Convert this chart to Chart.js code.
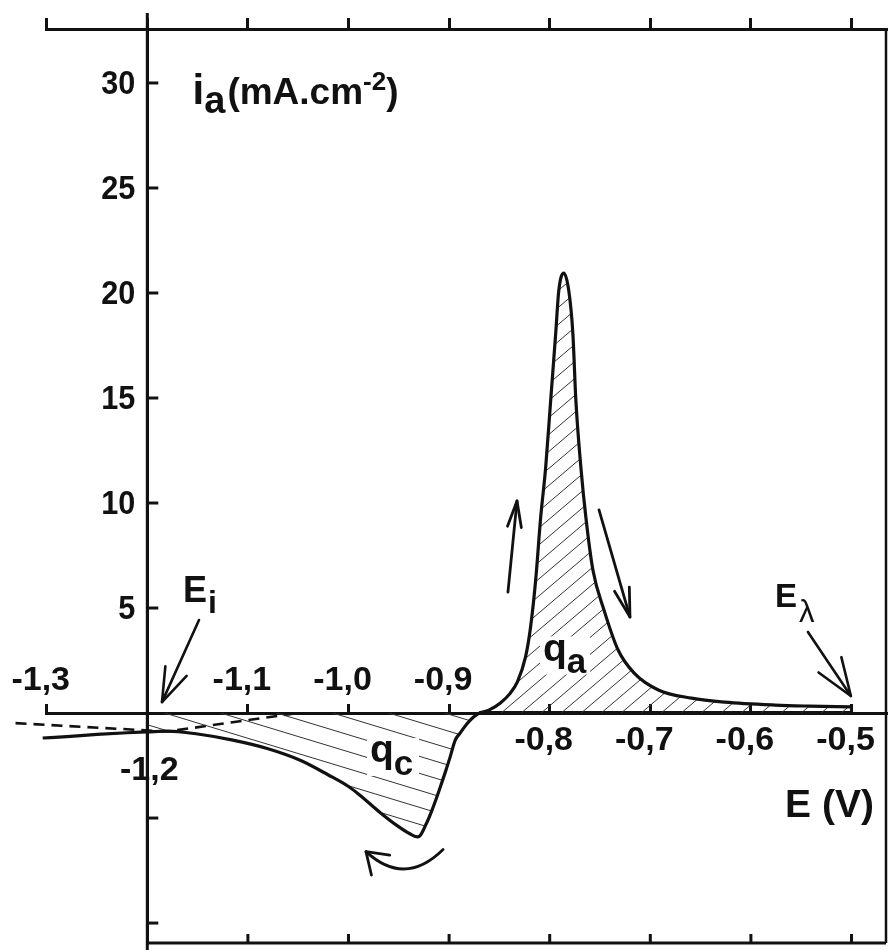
<!DOCTYPE html>
<html><head><meta charset="utf-8">
<script src="https://cdn.jsdelivr.net/npm/chart.js@4.4.0/dist/chart.umd.min.js"></script>
<style>html,body{margin:0;padding:0;background:#fff}canvas{display:block}</style>
</head><body>
<canvas id="c" width="890" height="950"></canvas>
<script>
// ---------- data ----------
const xTickValues = [-1.3, -1.2, -1.1, -1.0, -0.9, -0.8, -0.7, -0.6, -0.5];
const xTickLabels = ['-1,3', '-1,2', '-1,1', '-1,0', '-0,9', '-0,8', '-0,7', '-0,6', '-0,5'];
const yTickValues = [-10, -5, 0, 5, 10, 15, 20, 25, 30];
const yTickLabels = ['', '', '', '5', '10', '15', '20', '25', '30'];

// solid curve left of E = -1.2 V
const tailE = [-1.304, -1.28, -1.25, -1.22, -1.20];
const tailI = [-1.19, -1.12, -1.02, -0.94, -0.90];

// cathodic branch (q_c)
const cathE = [-1.20, -1.18, -1.15, -1.115, -1.08, -1.048, -1.02, -1.00, -0.989, -0.969, -0.952, -0.939, -0.931, -0.922, -0.916, -0.910, -0.904, -0.899, -0.894, -0.889, -0.882, -0.876, -0.870];
const cathI = [-0.90, -0.86, -1.00, -1.29, -1.70, -2.25, -2.95, -3.50, -3.90, -4.72, -5.35, -5.75, -5.90, -5.20, -4.50, -3.70, -2.85, -2.10, -1.30, -0.95, -0.50, -0.20, 0.00];

// anodic branch (q_a)
const anodE = [-0.870, -0.860, -0.849, -0.840, -0.832, -0.824, -0.819, -0.814, -0.809, -0.804, -0.799, -0.794, -0.791, -0.786, -0.781, -0.777, -0.774, -0.769, -0.764, -0.757, -0.746, -0.732, -0.716, -0.692, -0.659, -0.626, -0.576, -0.542, -0.501];
const anodI = [0.00, 0.15, 0.48, 0.90, 1.50, 2.67, 4.10, 6.30, 9.30, 11.70, 14.90, 18.10, 20.10, 20.95, 20.10, 18.10, 14.90, 11.70, 9.30, 6.80, 4.90, 3.00, 1.90, 1.10, 0.71, 0.52, 0.38, 0.33, 0.29];

// reverse scan lying on the axis
const backE = [-0.501, -0.870];
const backI = [0.03, 0.03];

// dashed baseline
const baseE = [-1.331, -1.180, -1.055];
const baseI = [-0.48, -0.88, -0.03];

// ---------- helpers ----------
const INK = '#111';
const FONT = "'Liberation Sans', Arial, Helvetica, sans-serif";
const pts = (xs, ys) => xs.map((v, k) => ({x: v, y: ys[k]}));

const cv = document.getElementById('c');
const ctx0 = cv.getContext('2d');
function hatch(w, h, dir) {
  const c = document.createElement('canvas');
  c.width = w; c.height = h;
  const g = c.getContext('2d');
  g.strokeStyle = '#333'; g.lineWidth = 1;
  for (let k = -1; k <= 1; k++) {
    g.beginPath();
    if (dir === 'up') { g.moveTo(0, h + k * h); g.lineTo(w, k * h); }
    else { g.moveTo(0, k * h); g.lineTo(w, h + k * h); }
    g.stroke();
  }
  return ctx0.createPattern(c, 'repeat');
}
const hatchA = hatch(20, 17, 'up');
const hatchC = hatch(56, 17, 'down');

function seg(ctx, x1, y1, x2, y2, w) {
  ctx.lineWidth = w; ctx.beginPath(); ctx.moveTo(x1, y1); ctx.lineTo(x2, y2); ctx.stroke();
}
function arrow(ctx, x1, y1, x2, y2, len, ang, w) {
  seg(ctx, x1, y1, x2, y2, w);
  const a = Math.atan2(y1 - y2, x1 - x2);
  ctx.beginPath();
  ctx.moveTo(x2 + len * Math.cos(a + ang), y2 + len * Math.sin(a + ang));
  ctx.lineTo(x2, y2);
  ctx.lineTo(x2 + len * Math.cos(a - ang), y2 + len * Math.sin(a - ang));
  ctx.stroke();
}
function runs(ctx, x, y, parts) {
  let cx = x;
  ctx.textAlign = 'left'; ctx.textBaseline = 'alphabetic';
  for (const p of parts) {
    ctx.font = `${p.w || 'bold'} ${p.s}px ${p.f || FONT}`;
    ctx.fillText(p.t, cx, y + (p.dy || 0));
    cx += ctx.measureText(p.t).width + (p.gap || 0);
  }
  return cx;
}
function squeezed(ctx, s, x, y, sx) {
  ctx.save(); ctx.translate(x, y); ctx.scale(sx, 1); ctx.fillText(s, 0, 0); ctx.restore();
}

const deco = {
  id: 'deco',
  afterDatasetsDraw(chart) {
    const {ctx, chartArea: a, scales: {x, y}} = chart;
    const X = v => x.getPixelForValue(v), Y = v => y.getPixelForValue(v);
    ctx.save();
    ctx.strokeStyle = INK; ctx.fillStyle = INK; ctx.lineCap = 'butt';
    const x0 = X(-1.2), y0 = Y(0);
    // vertical axis through E = -1.2 V, extended past the frame
    seg(ctx, x0, 13, x0, 950, 3);
    y.ticks.forEach(t => { if (t.value !== 0) seg(ctx, x0, Y(t.value), x0 + 11, Y(t.value), 3); });
    // y tick labels
    ctx.font = `bold 34px ${FONT}`;
    ctx.textAlign = 'right'; ctx.textBaseline = 'middle';
    y.ticks.forEach(t => {
      const k = yTickValues.indexOf(t.value);
      if (k >= 0 && yTickLabels[k]) squeezed(ctx, yTickLabels[k], x0 - 12, Y(t.value) + 2, 0.9);
    });
    // right frame and bottom frame
    seg(ctx, a.right, a.top - 1, a.right, a.bottom, 2.5);
    seg(ctx, x0, a.bottom, a.right, a.bottom, 3);
    xTickValues.forEach(v => { if (v > -1.15) seg(ctx, X(v), a.bottom, X(v), a.bottom - 9, 3); });

    // x tick labels on the zero axis
    ctx.font = `bold 34px ${FONT}`;
    ctx.textAlign = 'center'; ctx.textBaseline = 'middle';
    xTickValues.forEach((v, k) => {
      let ty;
      if (Math.abs(v + 1.2) < 1e-6) ty = y0 + 58;
      else if (v < -0.85) ty = y0 - 32;
      else ty = y0 + 28;
      const dx = Math.abs(v + 1.2) < 1e-6 ? 2 : -6;
      ctx.fillText(xTickLabels[k], X(v) + dx, ty);
    });

    // axis titles
    runs(ctx, X(-1.155), Y(29.0), [
      {t: 'i', s: 42}, {t: 'a', s: 38, dy: 9, gap: 2}, {t: '(mA.cm', s: 37}, {t: '-2', s: 26, dy: -14}, {t: ')', s: 37}
    ]);
    ctx.font = `bold 39px ${FONT}`;
    ctx.textAlign = 'left'; ctx.textBaseline = 'alphabetic';
    ctx.fillText('E (V)', X(-0.566), Y(-4.95));

    // region labels with white knock-out
    function boxed(xv, yv, parts, w, h) {
      const px = X(xv), py = Y(yv);
      ctx.fillStyle = '#fff';
      ctx.fillRect(px - 3, py - h, w, h + 14);
      ctx.fillStyle = INK;
      runs(ctx, px, py, parts);
    }
    boxed(-0.8067, 2.5, [{t: 'q', s: 39}, {t: 'a', s: 35, dy: 12}], 50, 24);
    boxed(-0.9786, -2.33, [{t: 'q', s: 39}, {t: 'c', s: 35, dy: 13}], 52, 24);

    // E_i and E_lambda
    runs(ctx, X(-1.1645), Y(5.29), [{t: 'E', s: 36, gap: 1}, {t: 'i', s: 32, dy: 11}]);
    runs(ctx, X(-0.576), Y(5.05), [{t: 'E', s: 33, gap: 2}, {t: 'λ', s: 31, w: 'normal', dy: 15}]);

    // arrows
    ctx.lineCap = 'round'; ctx.lineJoin = 'round';
    arrow(ctx, X(-1.1486), Y(4.43), X(-1.1854), Y(0.52), 36, 0.33, 2.6);
    arrow(ctx, X(-0.5433), Y(3.86), X(-0.5006), Y(0.81), 40, 0.35, 2.6);
    arrow(ctx, X(-0.8415), Y(5.76), X(-0.8325), Y(10.1), 27, 0.26, 2.8);
    arrow(ctx, X(-0.751), Y(9.67), X(-0.7202), Y(4.57), 30, 0.26, 2.8);
    // curved arrow under the cathodic peak
    const sx = X(-0.906), sy = Y(-6.5), cx = X(-0.944), cy = Y(-8.3), ex = X(-0.9826), ey = Y(-6.6);
    ctx.lineWidth = 2.8;
    ctx.beginPath(); ctx.moveTo(sx, sy); ctx.quadraticCurveTo(cx, cy, ex, ey); ctx.stroke();
    const ang = Math.atan2(cy - ey, cx - ex);
    ctx.beginPath();
    ctx.moveTo(ex + 24 * Math.cos(ang + 0.6), ey + 24 * Math.sin(ang + 0.6));
    ctx.lineTo(ex, ey);
    ctx.lineTo(ex + 24 * Math.cos(ang - 0.6), ey + 24 * Math.sin(ang - 0.6));
    ctx.stroke();
    ctx.restore();
  }
};

const lineStyle = {borderColor: INK, pointRadius: 0, cubicInterpolationMode: 'monotone', clip: false};
const noPad = (s) => { s.paddingTop = 0; s.paddingBottom = 0; s.paddingLeft = 0; s.paddingRight = 0; };

new Chart(cv, {
  type: 'line',
  data: {
    datasets: [
      Object.assign({data: pts(anodE, anodI), borderWidth: 3.2, fill: 'origin', backgroundColor: hatchA}, lineStyle),
      Object.assign({data: pts(cathE, cathI), borderWidth: 3.2, fill: 'origin', backgroundColor: hatchC}, lineStyle),
      Object.assign({data: pts(tailE, tailI), borderWidth: 3.2, fill: false}, lineStyle),
      Object.assign({data: pts(backE, backI), borderWidth: 3, fill: false}, lineStyle),
      Object.assign({data: pts(baseE, baseI), borderWidth: 2.6, borderDash: [11, 7], fill: false}, lineStyle, {cubicInterpolationMode: 'default', tension: 0})
    ]
  },
  options: {
    responsive: false,
    animation: false,
    devicePixelRatio: 1,
    layout: {padding: {left: 46, right: 4, top: 18, bottom: 7}},
    plugins: {legend: {display: false}, tooltip: {enabled: false}},
    scales: {
      x: {
        type: 'linear', min: -1.3007, max: -0.4657, position: {y: 0}, afterFit: noPad,
        grid: {display: true, drawOnChartArea: false, drawTicks: true, tickLength: -11, color: INK, lineWidth: 3},
        border: {display: true, color: INK, width: 3},
        ticks: {display: false, stepSize: 0.1, includeBounds: false}
      },
      x2: {
        type: 'linear', axis: 'x', min: -1.3007, max: -0.4657, position: 'top', afterFit: noPad,
        grid: {display: true, drawOnChartArea: false, drawTicks: true, tickLength: 11, color: INK, lineWidth: 3},
        border: {display: true, color: INK, width: 3},
        ticks: {display: false, stepSize: 0.1, includeBounds: false}
      },
      y: {
        type: 'linear', min: -10.95, max: 32.57, position: {x: -1.2}, afterFit: noPad,
        grid: {display: false, drawTicks: false},
        border: {display: true, color: INK, width: 3},
        ticks: {display: false, stepSize: 5, includeBounds: false}
      }
    }
  },
  plugins: [deco]
});
</script>
</body></html>
